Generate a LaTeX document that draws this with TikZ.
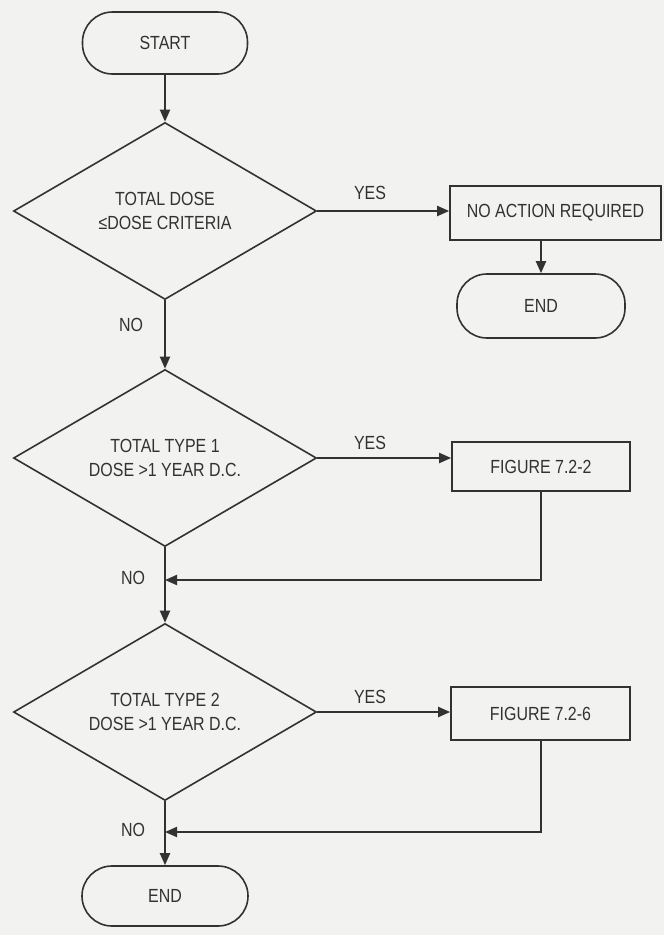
\documentclass[tikz,border=0pt]{standalone}
\usepackage{fontspec}
\setmainfont[FakeStretch=0.84]{Liberation Sans}
\usetikzlibrary{shapes.geometric,arrows.meta}
\definecolor{bg}{RGB}{242,242,240}
\definecolor{ink}{RGB}{50,50,50}
\begin{document}
\begin{tikzpicture}[x=1pt,y=-1pt,
  every node/.style={text=ink,font=\fontsize{19}{24}\selectfont,align=center},
  term/.style={draw=ink,line width=1.6pt,rectangle,rounded corners=30pt,inner sep=0pt},
  dec/.style={draw=ink,line width=1.6pt,diamond,aspect=1.71,minimum width=303pt,minimum height=177pt,inner sep=0pt},
  procbox/.style={draw=ink,line width=1.6pt,rectangle,inner sep=0pt},
  lab/.style={inner sep=0pt},
  conn/.style={draw=ink,line width=2pt},
  arr/.style={conn,-{Triangle[length=12pt,width=10pt]}}]
\fill[bg] (0,0) rectangle (664,935);
\useasboundingbox (0,0) rectangle (664,935);
\node[term,minimum width=165pt,minimum height=62pt] (start) at (165,43) {START};
\node[dec] (d1) at (165,211) {TOTAL DOSE\\≤DOSE CRITERIA};
\node[procbox,minimum width=211pt,minimum height=54pt] (na) at (555.5,213) {NO ACTION REQUIRED};
\node[term,minimum width=168pt,minimum height=64pt] (end1) at (541,306) {END};
\node[dec] (d2) at (165,458) {TOTAL TYPE 1\\DOSE >1 YEAR D.C.};
\node[procbox,minimum width=178pt,minimum height=49pt] (f1) at (541,466.5) {FIGURE 7.2-2};
\node[dec] (d3) at (165,712) {TOTAL TYPE 2\\DOSE >1 YEAR D.C.};
\node[procbox,minimum width=179pt,minimum height=53pt] (f2) at (540.5,713.5) {FIGURE 7.2-6};
\node[term,minimum width=166pt,minimum height=60pt] (end2) at (165,896) {END};
\coordinate (j1) at (165,580);
\coordinate (j2) at (165,832);
\node[lab] (y1) at (370,193) {YES};
\node[lab] (y2) at (370,443) {YES};
\node[lab] (y3) at (370,697) {YES};
\node[lab] (n1) at (131,325) {NO};
\node[lab] (n2) at (133,578) {NO};
\node[lab] (n3) at (133,830) {NO};
\draw[arr] (start) -- (d1.north);
\draw[arr] (d1.east) -- (d1.east -| na.west);
\draw[arr] (end1.north |- na.south) -- (end1.north);
\draw[arr] (d1.south) -- (d2.north);
\draw[arr] (d2.east) -- (d2.east -| f1.west);
\draw[arr] (f1.south) |- (j1);
\draw[arr] (d2.south) -- (d3.north);
\draw[arr] (d3.east) -- (d3.east -| f2.west);
\draw[arr] (f2.south) |- (j2);
\draw[arr] (d3.south) -- (end2.north);
\end{tikzpicture}
\end{document}
